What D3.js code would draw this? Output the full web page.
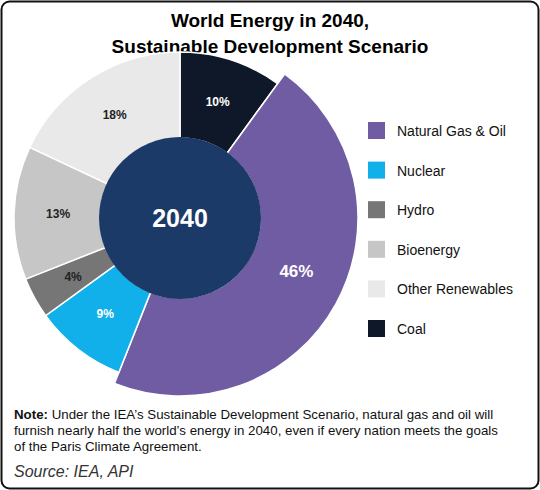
<!DOCTYPE html><html><head><meta charset="utf-8">
<script src="https://cdn.jsdelivr.net/npm/d3@7"></script>
<style>body{margin:0;background:#fff}svg{font-family:"Liberation Sans",Arial,sans-serif}</style></head><body>
<svg id="c" width="540" height="490"></svg>
<script>
const categories=["Coal","Natural Gas & Oil","Nuclear","Hydro","Bioenergy","Other Renewables"];
const values=[10,46,9,4,13,18];
const colors=["#0e1828","#705ca3","#12b0ea","#767676","#c6c6c6","#e9e9e9"];
const legendOrder=["Natural Gas & Oil","Nuclear","Hydro","Bioenergy","Other Renewables","Coal"];
const svg=d3.select("#c");
svg.append("rect").attr("x",1.5).attr("y",1.5).attr("width",537).attr("height",487).attr("rx",8).attr("fill","#fff").attr("stroke","#111").attr("stroke-width",2);
svg.append("text").attr("x",270).attr("y",27).attr("text-anchor","middle").attr("font-size",19).attr("font-weight","bold").text("World Energy in 2040,");
svg.append("text").attr("x",270).attr("y",53).attr("text-anchor","middle").attr("font-size",19).attr("font-weight","bold").text("Sustainable Development Scenario");
const cx=180,cy=218;
const g=svg.append("g").attr("transform",`translate(${cx},${cy})`);
const pie=d3.pie().sort(null).value(d=>d)(values);
const arcS=d3.arc().innerRadius(80).outerRadius(166);
const arcB=d3.arc().innerRadius(80).outerRadius(178);
pie.forEach((p,i)=>{
  const a=i===1?arcB:arcS;
  g.append("path").attr("d",a(p)).attr("fill",colors[i]).attr("stroke","#fff").attr("stroke-width",1.5);
  const lr=i===1?d3.arc().innerRadius(126).outerRadius(126):d3.arc().innerRadius(122).outerRadius(122);
  const c=lr.centroid(p);
  const dark=[0,1,2].includes(i);
  g.append("text").attr("x",c[0]+(i===1?6:0)).attr("y",c[1]+(i===1?-2:4)).attr("text-anchor","middle")
   .attr("font-size",i===1?17:12).attr("font-weight","bold").attr("fill",dark?"#fff":"#222").text(values[i]+"%");
});
g.append("circle").attr("r",81).attr("fill","#1b3a67");
g.append("text").attr("y",9).attr("text-anchor","middle").attr("fill","#fff").attr("font-size",25).attr("font-weight","bold").text("2040");
const lg=svg.append("g");
legendOrder.forEach((n,i)=>{
  const y=122+i*39.6;
  lg.append("rect").attr("x",368).attr("y",y).attr("width",17).attr("height",17).attr("fill",colors[categories.indexOf(n)]);
  lg.append("text").attr("x",397).attr("y",y+14).attr("font-size",14).attr("fill","#111").text(n);
});
const note=["Under the IEA’s Sustainable Development Scenario, natural gas and oil will","furnish nearly half the world’s energy in 2040, even if every nation meets the goals","of the Paris Climate Agreement."];
note.forEach((t,i)=>{
  const tx=svg.append("text").attr("x",14).attr("y",419+i*16).attr("font-size",13.3).attr("fill","#111");
  if(i===0){tx.append("tspan").attr("font-weight","bold").text("Note: ");}
  tx.append("tspan").text(t);
});
svg.append("text").attr("x",14).attr("y",477).attr("font-size",16).attr("font-style","italic").attr("fill","#333").text("Source: IEA, API");
</script></body></html>
